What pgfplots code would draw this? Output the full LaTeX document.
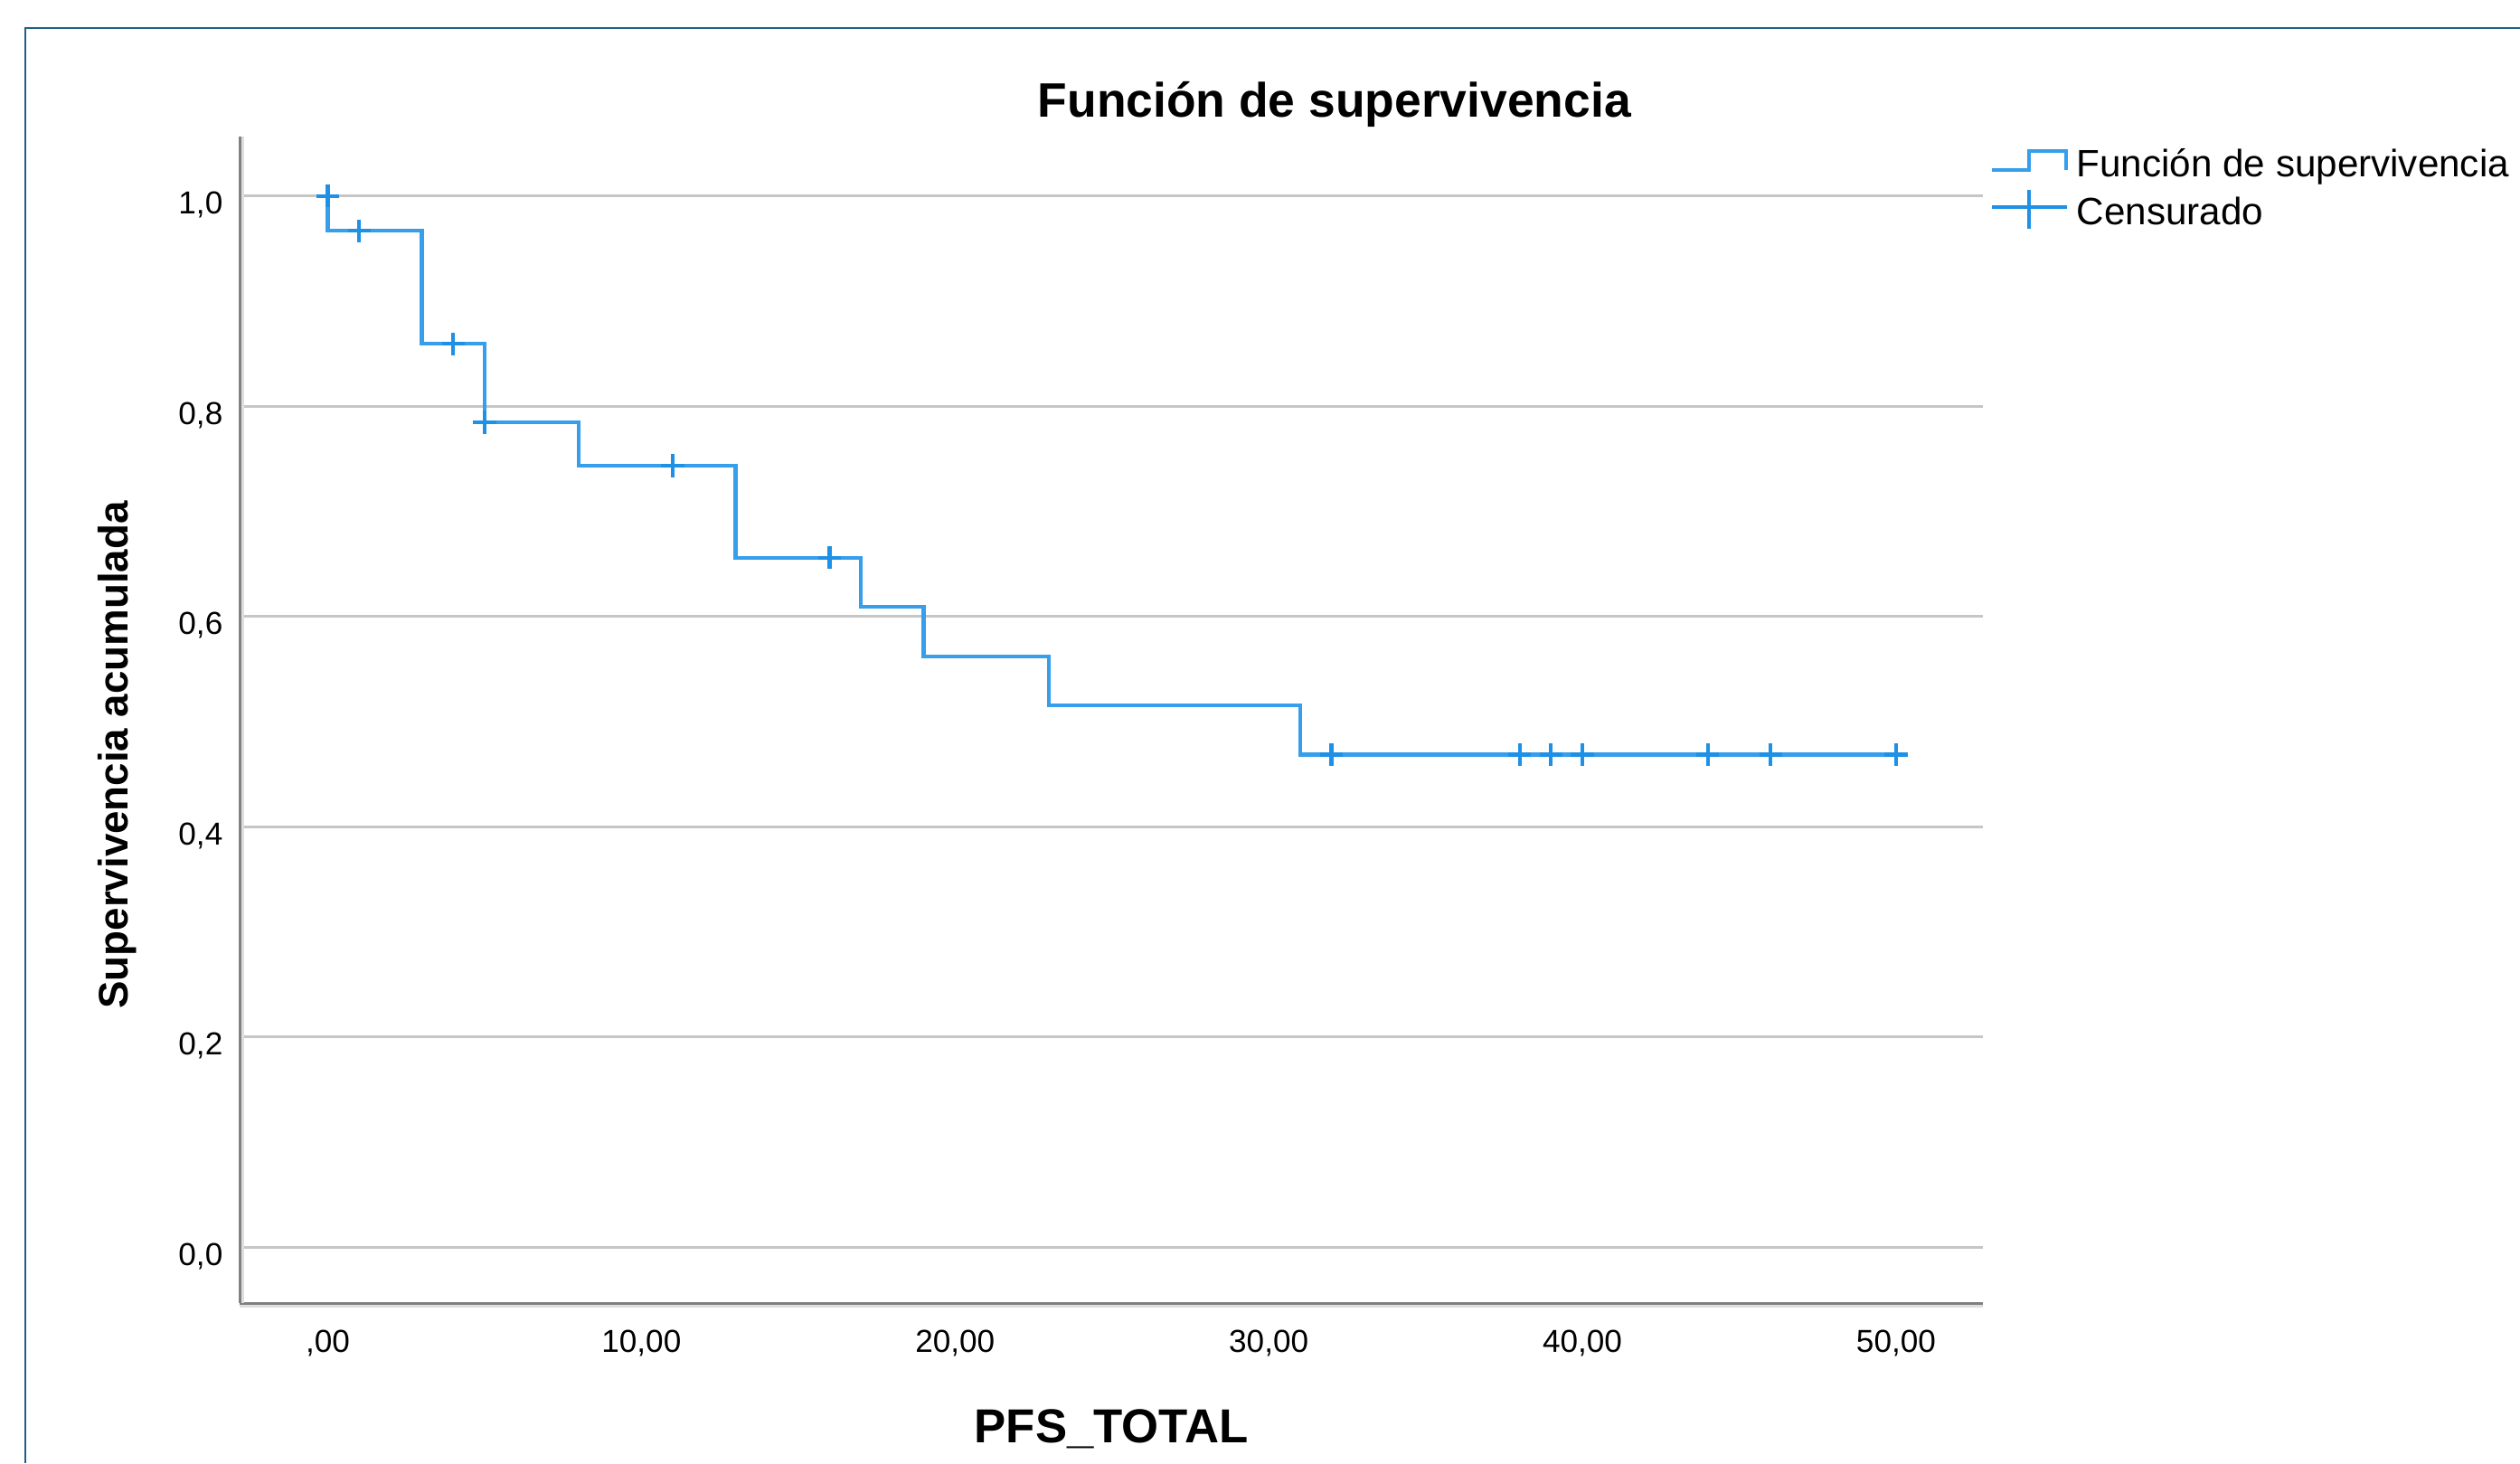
\documentclass[border=0pt]{standalone}
\usepackage{fontspec}
\setmainfont{Liberation Sans}
\usepackage{pgfplots}
\pgfplotsset{compat=1.18}
\definecolor{kmline}{RGB}{55,158,235}
\definecolor{kmmark}{RGB}{30,145,230}
\definecolor{gridc}{RGB}{198,198,198}
\definecolor{axisc}{RGB}{128,128,128}
\definecolor{shadowc}{RGB}{222,222,222}
\definecolor{framec}{RGB}{30,96,135}
\begin{document}
\begin{tikzpicture}[x=1cm,y=1cm]
\useasboundingbox (0,0) rectangle (27.87,16.18);
\fill[white] (0,0) rectangle (27.87,16.18);
\draw[framec, line width=0.025cm] (0.28,0) -- (0.28,15.87) -- (27.87,15.87);
\begin{axis}[
  at={(2.65cm,1.77cm)}, anchor=south west,
  scale only axis, width=19.28cm, height=12.90cm,
  xmin=-2.81, xmax=52.77, ymin=-0.0533, ymax=1.0565,
  axis x line*=bottom, axis y line*=left,
  axis line style={axisc, line width=0.03cm, -},
  clip=false,
  xtick={0,10,20,30,40,50},
  xticklabels={{,00},{10,00},{20,00},{30,00},{40,00},{50,00}},
  ytick={0,0.2,0.4,0.6,0.8,1.0},
  yticklabels={{0,0},{0,2},{0,4},{0,6},{0,8},{1,0}},
  major tick length=0pt,
  ymajorgrids, grid style={gridc, line width=0.03cm},
  tick label style={font=\fontsize{10}{12}\selectfont, inner sep=0pt},
  xticklabel style={anchor=base, yshift=-0.54cm},
  yticklabel style={anchor=base east, xshift=-0.18cm, yshift=-0.20cm},
  title={Función de supervivencia},
  title style={at={(axis description cs:0.628,1.017)}, anchor=base, yshift=-6pt, font=\fontsize{15.2}{18}\selectfont\bfseries, inner sep=0pt},
  xlabel={PFS\_TOTAL},
  xlabel style={at={(axis description cs:0.5,-0.1199)}, anchor=base, font=\fontsize{15}{18}\selectfont\bfseries, inner sep=0pt},
  ylabel={Supervivencia acumulada},
  ylabel style={at={(axis description cs:-0.0643,0.4698)}, anchor=base, rotate=0, font=\fontsize{13}{16}\selectfont\bfseries, inner sep=0pt},
  legend style={at={(axis description cs:1.0036,0.993)}, anchor=north west, draw=none, fill=none, inner sep=0pt, row sep=-0.06cm, column sep=0.09cm, font=\fontsize{12}{14}\selectfont, nodes={inner sep=0pt, text height=0.35cm, text depth=0.18cm}},
  legend cell align=left,
]
\addplot[const plot, kmline, line width=1.2pt,
  legend image code/.code={\draw[kmline, line width=1.2pt] (0cm,-0.01cm) -- (0.41cm,-0.01cm) -- (0.41cm,0.20cm) -- (0.82cm,0.20cm) -- (0.82cm,-0.01cm);}]
  coordinates {(0,1) (0,0.9667) (3,0.8593) (5,0.7846) (8,0.7433) (13,0.6558) (17,0.6090) (19,0.5621) (23,0.5153) (31,0.4684) (50,0.4684)};
\addlegendentry{Función de supervivencia}
\addplot[only marks, mark=+, mark size=3.6pt, kmmark, mark options={line width=1.2pt},
  legend image code/.code={\draw[kmmark, line width=1.1pt] (0cm,0.11cm) -- (0.83cm,0.11cm); \draw[kmmark, line width=1.1pt] (0.415cm,-0.13cm) -- (0.415cm,0.30cm);}]
  coordinates {(0,1) (1,0.9667) (4,0.8593) (5,0.7846) (11,0.7433) (16,0.6558) (32,0.4684) (38,0.4684) (39,0.4684) (40,0.4684) (44,0.4684) (46,0.4684) (50,0.4684)};
\addlegendentry{Censurado}
\draw[shadowc, line width=0.03cm] ([xshift=0.03cm]rel axis cs:0,0) -- ([xshift=0.03cm]rel axis cs:0,1);
\draw[shadowc, line width=0.035cm] ([yshift=-0.035cm]rel axis cs:0,0) -- ([yshift=-0.035cm]rel axis cs:1,0);
\end{axis}
\end{tikzpicture}
\end{document}
